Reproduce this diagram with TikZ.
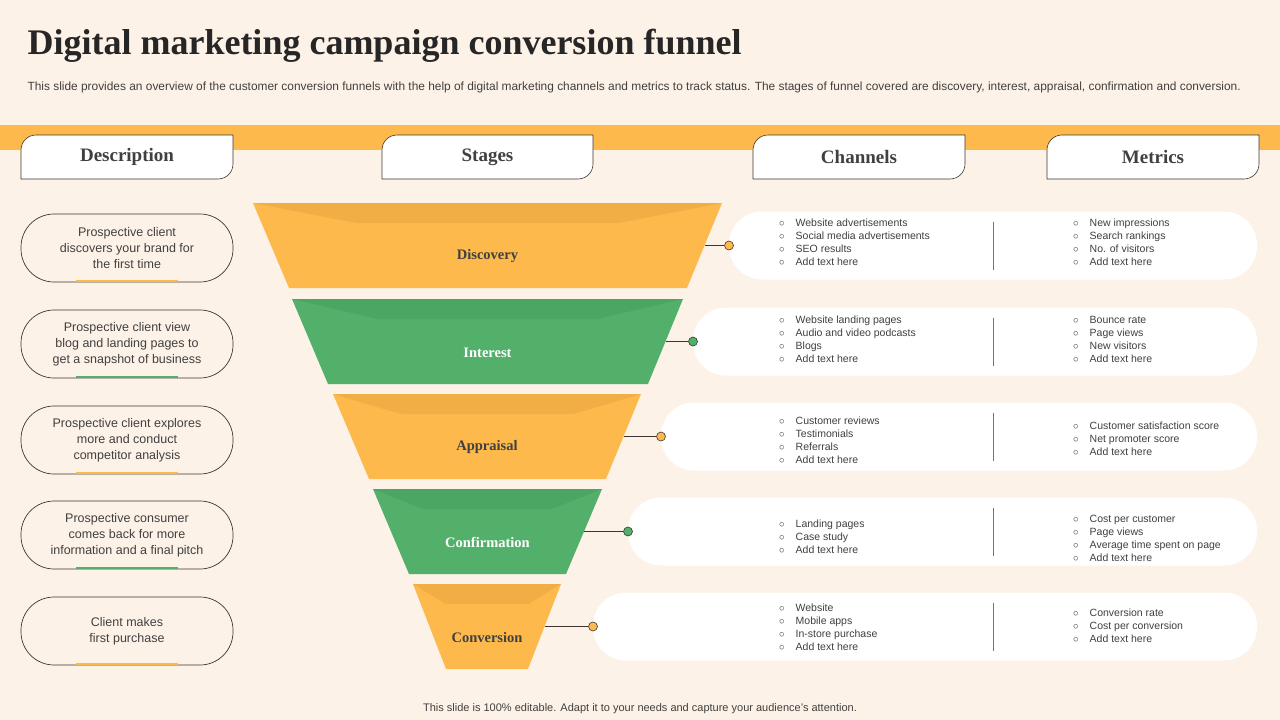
\documentclass[tikz,border=0pt]{standalone}
\usepackage{fontspec}
\setmainfont{Liberation Serif}
\setsansfont{Liberation Sans}
\usepackage{tikz}
\definecolor{bgc}{HTML}{FDF2E7}
\definecolor{orng}{HTML}{FDB94B}
\definecolor{orngd}{HTML}{F0AE45}
\definecolor{grn}{HTML}{52B06A}
\definecolor{grnd}{HTML}{4AA662}
\definecolor{txt}{HTML}{404040}
\definecolor{edg}{HTML}{3D3530}
\tikzset{
  tabtxt/.style={font=\fontsize{19}{19}\selectfont\bfseries, text=txt},
  pilltxt/.style={font=\sffamily\fontsize{12.5}{16}\selectfont, text=txt, align=center},
  listtxt/.style={font=\sffamily\fontsize{10.5}{13}\selectfont, text=txt, anchor=west, inner sep=0pt},
  stagetxt/.style={font=\fontsize{14.5}{14.5}\selectfont\bfseries},
  dot/.style={circle, draw=edg, line width=0.6pt, inner sep=0pt, minimum size=9pt}
}
\newcommand{\bl}[1]{\begin{tabular}{@{}l@{\hspace{11pt}}l@{}}#1\end{tabular}}
\newcommand{\headtab}[3]{%
  \draw[edg, fill=white, line width=0.6pt] (#1,179) -- (#1,150) arc[start angle=180,end angle=270,radius=15] -- (#2,135) -- (#2,164) arc[start angle=0,end angle=90,radius=15] -- cycle;
  \node[tabtxt] at ({(#1+#2)/2},157) {#3};}
\begin{document}
\begin{tikzpicture}[x=1pt,y=1pt,yscale=-1]
    \fill[bgc] (0,0) rectangle (1280,720);
    \useasboundingbox (0,0) rectangle (1280,720);
    % Title
    \node[anchor=west, font=\fontsize{36}{36}\selectfont\bfseries, text=black!85] (title) at (24,46) {Digital marketing campaign conversion funnel};
    \node[anchor=west, font=\sffamily\fontsize{11.9}{12}\selectfont, text=txt] (sub) at (24,87) {This slide provides an overview of the customer conversion funnels with the help of digital marketing channels and metrics to track status. The stages of funnel covered are discovery, interest, appraisal, confirmation and conversion.};
    % band and tabs
    \fill[orng] (0,125) rectangle (1280,150);
    \headtab{21}{233}{Description}
    \headtab{382}{593}{Stages}
    \headtab{753}{965}{Channels}
    \headtab{1047}{1259}{Metrics}
    % stages: top y / top left / top right / bottom left / bottom right / fill / shade / label / text colour / name / dot x
    \foreach \ty/\tl/\tr/\bl/\br/\fc/\sc/\lab/\tc/\nm/\dx in {
      203/253/722/289/687/orng/orngd/Discovery/txt/disc/729,
      299/292/683/328/648/grn/grnd/Interest/white/intr/693,
      394/333/641/369/606/orng/orngd/Appraisal/txt/appr/661,
      489/373/602/409/566/grn/grnd/Confirmation/white/conf/628,
      584/413/561/446/528/orng/orngd/Conversion/txt/conv/593}{
      \pgfmathsetmacro{\by}{\ty+85}
      \pgfmathsetmacro{\cy}{\ty+42.5}
      \pgfmathsetmacro{\sw}{0.22*(\tr-\tl)}
      \fill[\fc] (\tl,\ty) -- (\tr,\ty) -- (\br,\by) -- (\bl,\by) -- cycle;
      \fill[\sc] (\tl,\ty) -- (\tr,\ty) -- (\tr-\sw,\ty+20) -- (\tl+\sw,\ty+20) -- cycle;
      \node[stagetxt, text=\tc] (\nm) at ({(\tl+\tr)/2},\cy+11) {\lab};
      \coordinate (\nm-r) at ({(\tr+\br)/2},\cy);
      % channel pill
      \fill[white, rounded corners=33pt] (\dx,\cy-34) rectangle (1257,\cy+34);
      \draw[edg!70, line width=0.6pt] (993,\cy-24) -- (993,\cy+24);
      \node[dot, fill=\fc] (\nm-d) at (\dx,\cy) {};
      \draw[edg, line width=0.6pt] (\nm-r) -- (\nm-d);
    }
    % lists
    \node[listtxt] (l1c) at (779,243) {\bl{$\circ$&Website advertisements\\$\circ$&Social media advertisements\\$\circ$&SEO results\\$\circ$&Add text here}};
    \node[listtxt] (l1m) at (1073,243) {\bl{$\circ$&New impressions\\$\circ$&Search rankings\\$\circ$&No. of visitors\\$\circ$&Add text here}};
    \node[listtxt] (l2c) at (779,340) {\bl{$\circ$&Website landing pages\\$\circ$&Audio and video podcasts\\$\circ$&Blogs\\$\circ$&Add text here}};
    \node[listtxt] (l2m) at (1073,340) {\bl{$\circ$&Bounce rate\\$\circ$&Page views\\$\circ$&New visitors\\$\circ$&Add text here}};
    \node[listtxt] (l3c) at (779,441) {\bl{$\circ$&Customer reviews\\$\circ$&Testimonials\\$\circ$&Referrals\\$\circ$&Add text here}};
    \node[listtxt] (l3m) at (1073,440) {\bl{$\circ$&Customer satisfaction score\\$\circ$&Net promoter score\\$\circ$&Add text here}};
    \node[listtxt] (l4c) at (779,538) {\bl{$\circ$&Landing pages\\$\circ$&Case study\\$\circ$&Add text here}};
    \node[listtxt] (l4m) at (1073,539) {\bl{$\circ$&Cost per customer\\$\circ$&Page views\\$\circ$&Average time spent on page\\$\circ$&Add text here}};
    \node[listtxt] (l5c) at (779,628) {\bl{$\circ$&Website\\$\circ$&Mobile apps\\$\circ$&In-store purchase\\$\circ$&Add text here}};
    \node[listtxt] (l5m) at (1073,627) {\bl{$\circ$&Conversion rate\\$\circ$&Cost per conversion\\$\circ$&Add text here}};
    % description pills
    \foreach \cy/\uc/\tx/\nm in {
      248/orng/{Prospective client\\discovers your brand for\\the first time}/d1,
      344/grn/{Prospective client view\\blog and landing pages to\\get a snapshot of business}/d2,
      440/orng/{Prospective client explores\\more and conduct\\competitor analysis}/d3,
      535/grn/{Prospective consumer\\comes back for more\\information and a final pitch}/d4,
      631/orng/{Client makes\\first purchase}/d5}{
      \draw[edg, line width=0.7pt, fill=bgc, rounded corners=33pt] (21,\cy-34) rectangle (233,\cy+34);
      \fill[\uc] (76,\cy+31.5) rectangle (178,\cy+34);
      \node[pilltxt] (\nm) at (127,\cy) {\tx};
    }
    % footer
    \node[font=\sffamily\fontsize{11}{12}\selectfont, text=txt] (foot) at (640,709) {This slide is 100\% editable. Adapt it to your needs and capture your audience's attention.};
\end{tikzpicture}
\end{document}
